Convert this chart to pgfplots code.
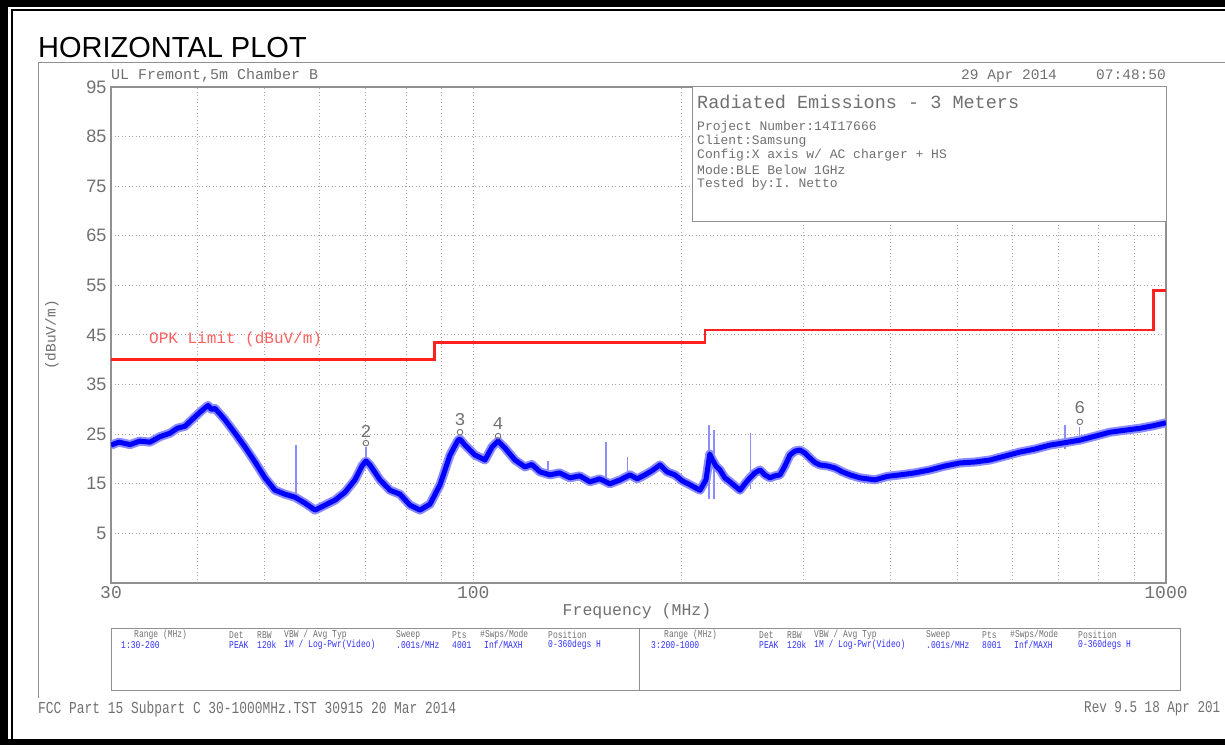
\documentclass[border=0pt]{standalone}
\usepackage{pgfplots}
\pgfplotsset{compat=1.18}
\usepackage{fontspec}
\setmainfont{Liberation Sans}
\newfontfamily\plotter{Liberation Mono}
\definecolor{txtgray}{HTML}{707070}
\definecolor{framegray}{HTML}{909090}
\definecolor{gridgray}{HTML}{A8A8A8}
\definecolor{traceblue}{HTML}{0000FF}
\definecolor{haloblue}{HTML}{8C8CFF}
\definecolor{limitred}{HTML}{FF2020}
\definecolor{limittxt}{HTML}{FF6060}
\definecolor{tblblue}{HTML}{3030FF}
\newcommand{\fs}[1]{\fontsize{#1}{#1}\selectfont}
\newcommand{\tall}[1]{\scalebox{1}[1.3]{#1}}
\begin{document}
\begin{tikzpicture}[x=1pt,y=1pt]
\useasboundingbox (0,0) rectangle (1225,750);
\clip (0,0) rectangle (1225,750);
% outer black frame
\fill[black] (0,5) rectangle (8,750);
\fill[black] (0,743) rectangle (1225,750);
\fill[black] (0,5) rectangle (1225,11);
\draw[black,line width=1.6pt] (12,11) -- (12,740) -- (1225,740);
% gray chart frame
\draw[framegray,line width=1pt] (38,52) -- (38,687) -- (1230,687);
% title
\node[anchor=base west,inner sep=0pt] at (38,692) {\fs{29}HORIZONTAL PLOT};
% header texts
\node[anchor=base west,inner sep=0pt,text=txtgray] at (111,670) {\plotter\fs{15}UL Fremont,5m Chamber B};
\node[anchor=base west,inner sep=0pt,text=txtgray] at (961,670) {\plotter\fs{14.5}29 Apr 2014};
\node[anchor=base east,inner sep=0pt,text=txtgray] at (1166,670) {\plotter\fs{14.5}07:48:50};
\begin{axis}[
  at={(111pt,167pt)}, anchor=south west,
  scale only axis, width=1055pt, height=496pt,
  xmode=log, xmin=30, xmax=1000, ymin=-5, ymax=95,
  xtick={30,40,50,60,70,80,90,100,200,300,400,500,600,700,800,900,1000},
  xticklabels={30,{},{},{},{},{},{},100,{},{},{},{},{},{},{},{},1000},
  ytick={-5,5,15,25,35,45,55,65,75,85,95},
  yticklabels={{},5,15,25,35,45,55,65,75,85,95},
  major tick length=0pt, minor tick num=0,
  xminorticks=false,
  grid=major,
  major grid style={gridgray, line width=1pt, dash pattern=on 1pt off 2.5pt},
  axis line style={framegray, line width=1.3pt},
  xticklabel style={text=txtgray, font=\plotter\fs{18}, yshift=0pt},
  yticklabel style={text=txtgray, font=\fs{18}, xshift=-1pt},
  clip=true,
]
% limit line
\addplot[limitred, line width=2.6pt, const plot] coordinates {
(30,40) (88,43.5) (216,46) (960,54) (1000,54)};
\pgfplotstableread{
f db
30 22.8
30.8 23.4
31.96 22.9
33.0 23.6
34.15 23.4
35.3 24.5
36.50 25.2
37.4 26.2
38.37 26.6
39.66 28.5
40.3 29.4
41.00 30.3
41.42 30.8
41.9 30.0
42.39 30.2
43.82 27.9
45.31 25.2
46.84 22.4
48.42 19.4
50.05 16.2
51.74 13.7
53.49 12.9
55.30 12.3
57.17 11.1
59.10 9.7
61.10 10.7
63.16 11.7
65.30 13.3
67.50 15.8
69.09 18.6
70.01 19.6
70.95 18.8
73.35 15.8
75.83 13.7
78.39 12.9
81.04 10.7
83.78 9.7
86.61 10.9
89.54 14.8
92.57 20.8
95.06 23.8
95.69 24.0
97.29 22.8
100.58 20.8
103.98 19.8
106.43 22.4
108.57 23.6
111.13 22.2
114.88 19.8
118.76 18.4
121.5 18.9
124.84 17.4
129.05 16.8
133.2 17.2
137.91 16.2
142.5 16.6
147.38 15.4
152.3 16.0
157.50 15.0
163.0 15.8
168.31 16.8
172.5 16.0
176.92 16.8
181.0 17.6
186.00 18.8
190.5 17.4
195.52 16.8
200.3 15.6
205.52 14.8
212.47 13.7
216.75 15.8
219.5 21.0
221.12 20.0
224.0 18.6
227.06 17.8
230.8 16.2
234.74 15.4
242.67 13.7
246.7 15.0
250.87 16.2
255.0 17.2
259.36 17.8
263.6 16.8
268.12 16.2
272.6 16.6
277.18 16.8
281.8 18.6
286.55 20.8
291.3 21.6
296.23 21.8
301.2 21.2
306.24 20.2
311.3 19.3
316.58 18.8
324.6 18.6
332.79 18.2
341.2 17.4
349.80 16.8
361.62 16.2
380.11 15.8
396.3 16.5
413.04 16.8
434.2 17.2
456.32 17.8
480.0 18.6
504.17 19.2
530.0 19.4
557.02 19.8
585.7 20.6
615.40 21.4
647.0 22.0
679.91 22.8
715.0 23.3
751.18 23.8
790.0 24.6
830.00 25.4
872.0 25.8
917.04 26.2
958.0 26.7
1000 27.3
}\tracetable
\addplot[haloblue, line width=9pt, line join=round] table[x=f,y=db] {\tracetable};
% spikes
\addplot[haloblue, line width=1.2pt] coordinates {(55.48,12) (55.48,22.8)};
\addplot[haloblue, line width=1.2pt] coordinates {(70.0,19) (70.0,22.5)};
\addplot[haloblue, line width=1.2pt] coordinates {(128.2,17) (128.2,19.5)};
\addplot[haloblue, line width=1.2pt] coordinates {(155.5,15) (155.5,23.4)};
\addplot[haloblue, line width=1.2pt] coordinates {(167.2,16) (167.2,20.5)};
\addplot[haloblue, line width=1.5pt] coordinates {(219,12) (219,26.9)};
\addplot[haloblue, line width=1.5pt] coordinates {(222.5,12) (222.5,25.8)};
\addplot[haloblue, line width=1.2pt] coordinates {(251,14) (251,25.2)};
\addplot[haloblue, line width=1.2pt] coordinates {(714.7,22) (714.7,26.9)};
\addplot[haloblue, line width=1.2pt] coordinates {(751,23) (751,26.5)};
\addplot[traceblue, line width=5pt, line join=round] table[x=f,y=db] {\tracetable};
% markers
\addplot[only marks, mark=o, mark size=2.8pt, color=txtgray, mark options={line width=0.9pt}] coordinates {
(70.0,23.2) (95.7,25.4) (108.6,24.6) (751,27.5)};
\node[text=txtgray, font=\plotter\fs{18}] at (axis cs:70.0,25.6) {2};
\node[text=txtgray, font=\plotter\fs{18}] at (axis cs:95.7,28.0) {3};
\node[text=txtgray, font=\plotter\fs{18}] at (axis cs:108.6,27.2) {4};
\node[text=txtgray, font=\plotter\fs{18}] at (axis cs:751,30.3) {6};
\end{axis}
% y label
\node[rotate=90,text=txtgray] at (52,415) {\plotter\fs{14.5}(dBuV/m)};
% x label
\node[text=txtgray] at (637,139) {\plotter\fs{16.5}Frequency (MHz)};
% limit label
\node[anchor=west,text=limittxt,inner sep=0pt] at (149,411) {\plotter\fs{16}OPK Limit (dBuV/m)};
% info box
\draw[framegray,fill=white,line width=1pt] (692,663) rectangle (1166,528);
\node[anchor=west,text=txtgray,inner sep=0pt] at (697,648) {\plotter\fs{18.5}Radiated Emissions - 3 Meters};
\node[anchor=west,text=txtgray,inner sep=0pt] at (697,623) {\plotter\fs{13}Project Number:14I17666};
\node[anchor=west,text=txtgray,inner sep=0pt] at (697,609) {\plotter\fs{13}Client:Samsung};
\node[anchor=west,text=txtgray,inner sep=0pt] at (697,595) {\plotter\fs{13}Config:X axis w/ AC charger + HS};
\node[anchor=west,text=txtgray,inner sep=0pt] at (697,580) {\plotter\fs{13}Mode:BLE Below 1GHz};
\node[anchor=west,text=txtgray,inner sep=0pt] at (697,566) {\plotter\fs{13}Tested by:I. Netto};
% bottom table
\draw[framegray,line width=1pt] (111,122) rectangle (1180,60);
\draw[framegray,line width=1pt] (639,122) -- (639,60);
\foreach \dx/\rng/\pts in {0/1:30-200/4001, 530/3:200-1000/8001} {
  \begin{scope}[xshift=\dx pt, every node/.style={anchor=west,inner sep=0pt,font=\plotter\fs{8}}]
    \node[text=txtgray] at (134,115) {\tall{Range (MHz)}};
    \node[text=txtgray] at (229,115) {\tall{Det}};
    \node[text=txtgray] at (257,115) {\tall{RBW}};
    \node[text=txtgray] at (284,115) {\tall{VBW / Avg Typ}};
    \node[text=txtgray] at (396,115) {\tall{Sweep}};
    \node[text=txtgray] at (452,115) {\tall{Pts}};
    \node[text=txtgray] at (480,115) {\tall{\#Swps/Mode}};
    \node[text=txtgray] at (548,115) {\tall{Position}};
    \node[text=tblblue] at (121,105) {\tall{\rng}};
    \node[text=tblblue] at (229,105) {\tall{PEAK}};
    \node[text=tblblue] at (257,105) {\tall{120k}};
    \node[text=tblblue] at (284,105) {\tall{1M / Log-Pwr(Video)}};
    \node[text=tblblue] at (396,105) {\tall{.001s/MHz}};
    \node[text=tblblue] at (452,105) {\tall{\pts}};
    \node[text=tblblue] at (484,105) {\tall{Inf/MAXH}};
    \node[text=tblblue] at (548,105) {\tall{0-360degs H}};
  \end{scope}
}
% footer
\node[anchor=west,inner sep=0pt,text=txtgray] at (38,41) {\plotter\fs{12.9}\tall{FCC Part 15 Subpart C 30-1000MHz.TST 30915 20 Mar 2014}};
\node[anchor=west,inner sep=0pt,text=txtgray] at (1084,41) {\plotter\fs{12.6}\tall{Rev 9.5 18 Apr 201}};
\end{tikzpicture}
\end{document}
